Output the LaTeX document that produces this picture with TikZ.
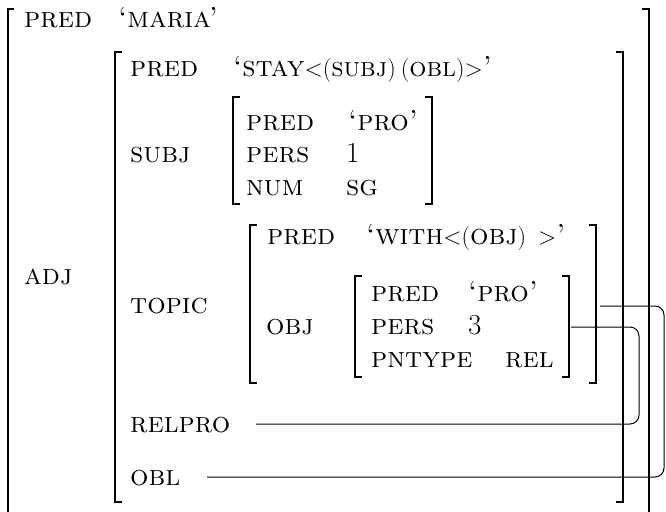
\documentclass[tikz,border=0pt]{standalone}
\usepackage{fix-cm}
\newcommand\pnc[1]{{\fontsize{24}{28}\selectfont #1}}
\newcommand\argsc[1]{{\fontsize{27}{31}\selectfont\textsc{#1}}}
\begin{document}
\begin{tikzpicture}[x=1pt,y=-1pt,
  lbl/.style={anchor=base west,inner sep=0pt,font=\fontsize{29}{34}\selectfont},
  brk/.style={line width=1.4pt},
  conn/.style={line width=1pt,rounded corners=9pt}]
\useasboundingbox (0,0) rectangle (666,511);
% outer brackets
\draw[brk] (14,9) -- (8,9) -- (8,515);
\draw[brk] (642,9) -- (649,9) -- (649,515);
% ADJ brackets
\draw[brk] (122,52) -- (115,52) -- (115,502) -- (122,502);
\draw[brk] (616,52) -- (623,52) -- (623,502) -- (616,502);
% SUBJ brackets
\draw[brk] (240,97) -- (233,97) -- (233,204) -- (240,204);
\draw[brk] (425,97) -- (432,97) -- (432,204) -- (425,204);
% TOPIC brackets
\draw[brk] (257,225) -- (250,225) -- (250,383) -- (257,383);
\draw[brk] (589,225) -- (596,225) -- (596,383) -- (589,383);
% OBJ brackets
\draw[brk] (362,276) -- (355,276) -- (355,377) -- (362,377);
\draw[brk] (562,276) -- (569,276) -- (569,377) -- (562,377);
% top level
\node[lbl] (pred0) at (24,28) {\textsc{pred}};
\node[lbl] (maria) at (118,28) {\textsc{`maria'}};
\node[lbl] (adj) at (24,284) {\textsc{adj}};
% ADJ f-structure
\node[lbl] (pred1) at (130,76) {\textsc{pred}};
\node[lbl] (stay) at (233,76) {\textsc{`stay}\pnc{$<$(}\argsc{subj}\pnc{)\hspace{5pt}(}\argsc{obl}\pnc{)$>$}\textsc{'}};
\node[lbl] (subj) at (130,162) {\textsc{subj}};
\node[lbl] (pred2) at (246,130) {\textsc{pred}};
\node[lbl] (pro1) at (348,130) {\textsc{`pro'}};
\node[lbl] (pers1) at (246,162) {\textsc{pers}};
\node[lbl] (one) at (346,162) {1};
\node[lbl] (num) at (246,195) {\textsc{num}};
\node[lbl] (sg) at (346,195) {\textsc{sg}};
\node[lbl] (topic) at (130,313) {\textsc{topic}};
\node[lbl] (pred3) at (267,244) {\textsc{pred}};
\node[lbl] (with) at (366,244) {\textsc{`with}\pnc{$<$(}\textsc{obj}\pnc{)\hspace{12pt}$>$}\textsc{'}};
\node[lbl] (obj) at (266,334) {\textsc{obj}};
\node[lbl] (pred4) at (371,301) {\textsc{pred}};
\node[lbl] (pro2) at (468,301) {\textsc{`pro'}};
\node[lbl] (pers2) at (371,334) {\textsc{pers}};
\node[lbl] (three) at (468,334) {3};
\node[lbl] (pnt) at (371,367) {\textsc{pntype}};
\node[lbl] (rel) at (505,367) {\textsc{rel}};
\node[lbl] (relpro) at (130,432) {\textsc{relpro}};
\node[lbl] (obl) at (130,485) {\textsc{obl}};
% connector anchors
\coordinate (relproS) at (256,424);
\coordinate (objR) at (571,327);
\coordinate (oblS) at (207,477);
\coordinate (topicR) at (600,306);
\draw[conn] (relproS) -- (639,424) -- (639,327) -- (objR);
\draw[conn] (oblS) -- (664,477) -- (664,306) -- (topicR);
\end{tikzpicture}
\end{document}
